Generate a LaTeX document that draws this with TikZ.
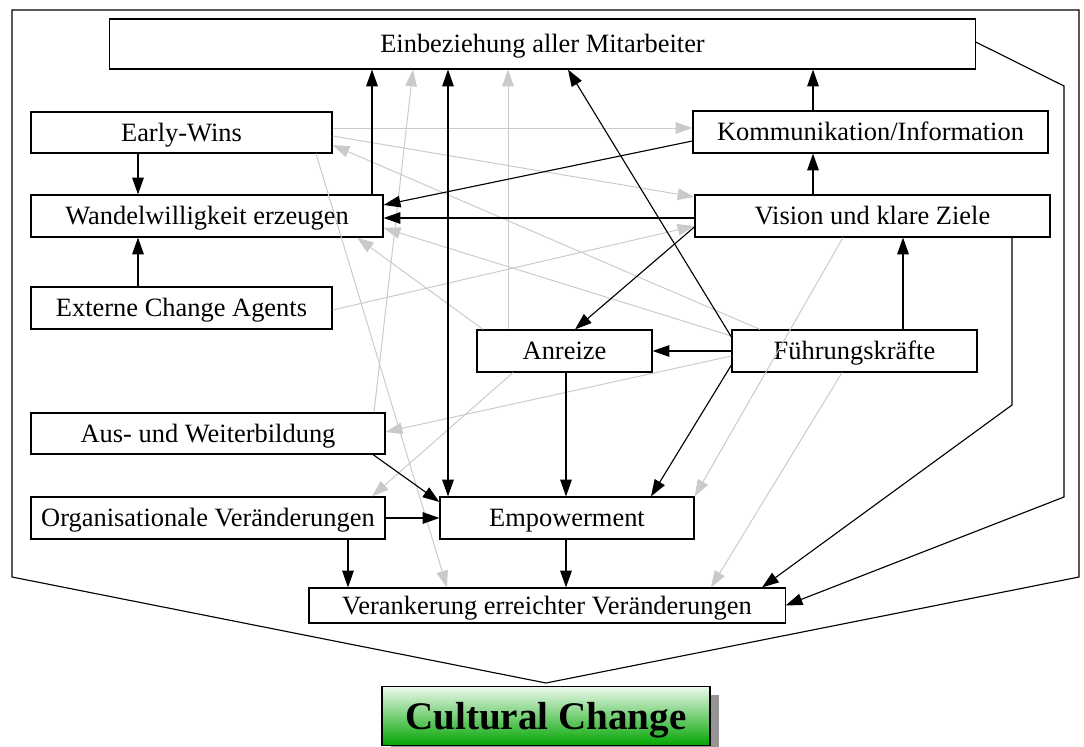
\documentclass[tikz,border=0pt]{standalone}
\usepackage{fontspec}
\setmainfont{Liberation Serif}
\usetikzlibrary{arrows.meta,shadows}

\definecolor{faintgray}{RGB}{202,202,202}
\definecolor{ccgreen}{RGB}{0,165,0}
\definecolor{cclight}{RGB}{238,249,238}

\begin{document}
\begin{tikzpicture}[x=0.025cm, y=-0.025cm,
        >={Triangle[length=4.2mm,width=2.9mm]},
        box/.style={draw, line width=0.8pt, fill=white, inner sep=0pt, minimum height=1.05cm, align=center, text height=12.4pt, text depth=0pt, font=\fontsize{18.8}{22}\selectfont},
        ccbox/.style={draw, line width=0.8pt, inner sep=0pt, minimum width=8.2cm, minimum height=1.48cm, text height=18.6pt, text depth=0pt, top color=cclight, bottom color=ccgreen, font=\fontsize{27.8}{32}\selectfont\bfseries, drop shadow={shadow xshift=0.22cm, shadow yshift=-0.22cm, fill=black!42, opacity=1}},
        link/.style={->, line width=0.8pt},
        faint/.style={->, line width=0.7pt, color=faintgray}
      ]
      \useasboundingbox (0,0) rectangle (1084,747);

      % Frame
      \draw[line width=0.8pt] (12,10) -- (1079,10) -- (1079,577) -- (546,683) -- (12,577) -- cycle;

      % Top
      \node[box, minimum width=21.625cm, minimum height=1.25cm] (ein) at (542.5,44) {Einbeziehung aller Mitarbeiter};

      % Left column
      \node[box, minimum width=7.525cm, minimum height=1.025cm] (ew) at (181.5,132.5) {Early-Wins};
      \node[box, minimum width=8.8cm] (wan) at (207,216) {Wandelwilligkeit erzeugen};
      \node[box, minimum width=7.525cm] (ext) at (181.5,308) {Externe Change Agents};
      \node[box, minimum width=8.85cm, minimum height=1.025cm] (aus) at (208,433.5) {Aus- und Weiterbildung};
      \node[box, minimum width=8.85cm] (org) at (208,518) {Organisationale Veränderungen};

      % Right column
      \node[box, minimum width=8.875cm] (kom) at (870.5,132) {Kommunikation/Information};
      \node[box, minimum width=8.875cm] (vis) at (872.5,216) {Vision und klare Ziele};
      \node[box, minimum width=6.125cm] (fk) at (854.5,351) {Führungskräfte};

      % Middle
      \node[box, minimum width=4.375cm] (anr) at (564.5,351) {Anreize};
      \node[box, minimum width=6.35cm] (emp) at (567,518) {Empowerment};
      \node[box, minimum width=11.9cm, minimum height=0.875cm] (ver) at (547,605.5) {Verankerung erreichter Veränderungen};

      % Result
      \node[ccbox] (cc) at (546,716) {Cultural Change};

      % Weak influences
      \draw[faint] (ew.east |- 0,128) -- (kom.west |- 0,128);
      \draw[faint] (ew.east |- 0,136) -- (vis.west |- 0,197);
      \draw[faint] (fk.north -| 760,0) -- (ew.east |- 0,145);
      \draw[faint] (fk.west |- 0,336) -- (wan.east |- 0,228);
      \draw[faint] (anr.north -| 483,0) -- (wan.south -| 357,0);
      \draw[faint] (ext.east |- 0,310) -- (vis.west |- 0,226);
      \draw[faint] (anr.north -| 508,0) -- (ein.south -| 508,0);
      \draw[faint] (aus.north -| 374,0) -- (ein.south -| 413,0);
      \draw[faint] (ew.south -| 316,0) -- (ver.north -| 447,0);
      \draw[faint] (fk.west |- 0,356) -- (aus.east |- 0,432);
      \draw[faint] (anr.south -| 513,0) -- (org.north -| 372,0);
      \draw[faint] (vis.south -| 843,0) -- (emp.north east);
      \draw[faint] (fk.south -| 842,0) -- (ver.north -| 711,0);

      % Strong influences
      \draw[link] (ew.south -| 138,0) -- (wan.north -| 138,0);
      \draw[link] (ext.north -| 138,0) -- (wan.south -| 138,0);
      \draw[link] (wan.north -| 372,0) -- (ein.south -| 372,0);
      \draw[link] (kom.west |- 0,141) -- (wan.east |- 0,205);
      \draw[link] (vis.west |- 0,218) -- (wan.east |- 0,218);
      \draw[link] (kom.north -| 813,0) -- (ein.south -| 813,0);
      \draw[link] (vis.north -| 813,0) -- (kom.south -| 813,0);
      \draw[link] (vis.west |- 0,227) -- (anr.north -| 575,0);
      \draw[link] (fk.west |- 0,337) -- (ein.south -| 568,0);
      \draw[link] (fk.west) -- (anr.east);
      \draw[link] (fk.north -| 903,0) -- (vis.south -| 903,0);
      \draw[link] (fk.west |- 0,365) -- (emp.north -| 651,0);
      \draw[link] (anr.south -| 566,0) -- (emp.north -| 566,0);
      \draw[<->, line width=0.8pt] (ein.south -| 448,0) -- (emp.north -| 448,0);
      \draw[link] (aus.south -| 373,0) -- (emp.west |- 0,502);
      \draw[link] (org.east) -- (emp.west);
      \draw[link] (org.south -| 348,0) -- (ver.north -| 348,0);
      \draw[link] (emp.south -| 566,0) -- (ver.north -| 566,0);
      \draw[link] (vis.south -| 1012,0) -- (1012,405) -- (ver.north -| 762,0);
      \draw[link] (ein.east |- 0,42) -- (1064,86) -- (1064,497) -- (ver.east);

    \end{tikzpicture}
\end{document}
